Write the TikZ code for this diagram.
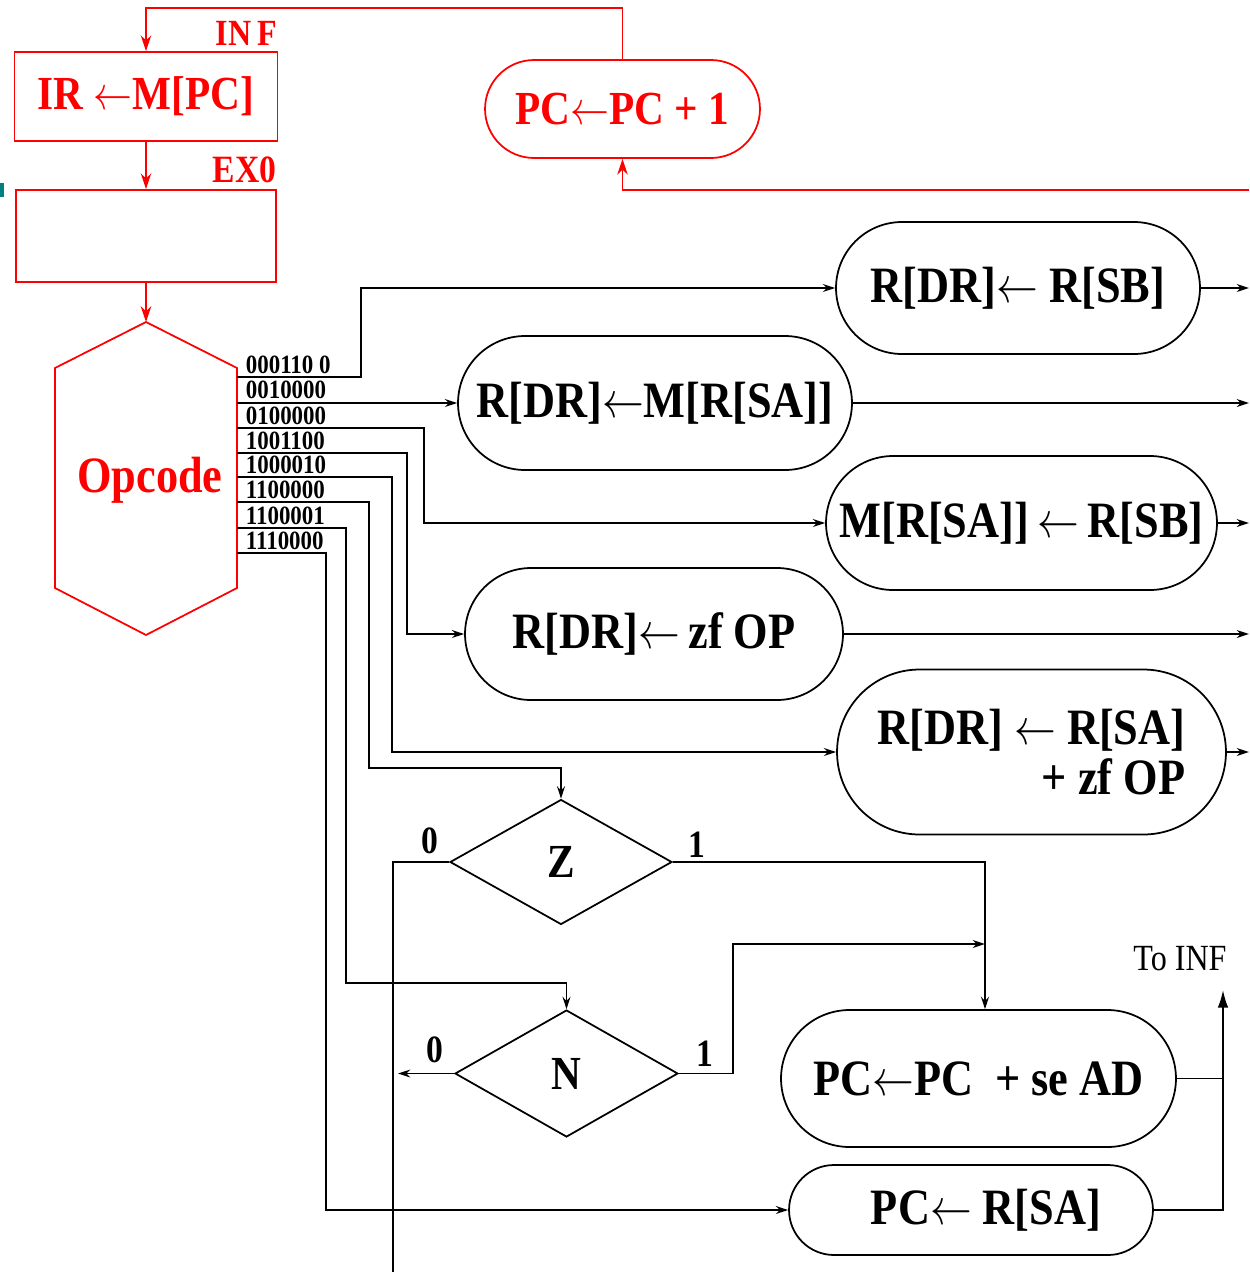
\documentclass[tikz,border=0pt]{standalone}
\usepackage{fix-cm}
\usepackage{graphicx}
\usepackage{fontspec}
\setmainfont{Liberation Serif}[FakeStretch=0.87]
\usetikzlibrary{shapes.geometric,shapes.misc,arrows.meta}
\newcommand{\fsz}[1]{\fontsize{#1}{#1}\selectfont}
\newcommand{\getarrow}{\scalebox{0.82}[1]{$\leftarrow$}}

\begin{document}
\begin{tikzpicture}[x=0.02cm, y=-0.02cm, line width=1pt,
  >={Stealth[length=7pt,width=4.5pt]},
  fbox/.style={draw=red, text=red, font=\fsz{27}\bfseries, inner sep=0pt},
  oval/.style={rounded rectangle, draw, font=\fsz{29}\bfseries, inner sep=0pt},
  test/.style={diamond, draw, font=\fsz{27}\bfseries, inner sep=0pt,
    minimum width=4.44cm, minimum height=2.5cm},
  code/.style={font=\fsz{15}\bfseries, anchor=base west, inner sep=0pt},
  flag/.style={font=\fsz{22}\bfseries, anchor=base, inner sep=0pt},
  redarrow/.style={red, ->, >={Stealth[length=9pt,width=6pt]}}]
  \useasboundingbox (0,0) rectangle (1249,1272);
  % Fetch box, decode box and PC increment (red)
  \node[fbox, minimum width=5.26cm, minimum height=1.78cm] (fetch) at (146,96.5)
    {IR \getarrow M[PC]};
  \node[fbox, minimum width=5.2cm, minimum height=1.84cm] (decode) at (146,236) {};
  \node[red, font=\fsz{21}\bfseries, anchor=base east, inner sep=0pt] (inf)
    at (278,45) {IN\,F};
  \node[red, font=\fsz{22}\bfseries, anchor=base east, inner sep=0pt] (ex0)
    at (277,182) {EX0};
  \node[rounded rectangle, draw=red, text=red, font=\fsz{27}\bfseries,
    minimum width=5.5cm, minimum height=1.96cm, inner sep=0pt] (pcinc)
    at (622.5,109) {PC\getarrow PC + 1};
  \fill[teal] (0,183) rectangle (4,197);
  % Opcode hexagon
  \draw[red] (146,322) coordinate (hextop) -- (237,368) -- (237,588)
    -- (146,635) -- (55,588) -- (55,368) -- cycle;
  \node[text=red, font=\fsz{29}\bfseries] (opcode) at (150,480) {Opcode};
  % Red connectors
  \coordinate (loop) at (146,8);
  \coordinate (pcfeed) at (1249,190);
  \draw[redarrow] (pcinc.north) |- (loop) -- (fetch.north);
  \draw[redarrow] (fetch.south) -- (decode.north);
  \draw[redarrow] (decode.south) -- (hextop);
  \draw[redarrow] (pcfeed) -| (pcinc.south);
  % Execute states
  \node[oval, minimum width=7.28cm, minimum height=2.64cm] (sb) at (1018,288)
    {R[DR]\getarrow\ R[SB]};
  \node[oval, minimum width=7.88cm, minimum height=2.68cm] (ld) at (655,403)
    {R[DR]\getarrow M[R[SA]]};
  \node[oval, minimum width=7.82cm, minimum height=2.68cm] (st) at (1021.5,523)
    {M[R[SA]]\,\getarrow\,R[SB]};
  \node[oval, minimum width=7.56cm, minimum height=2.64cm] (zf) at (654,634)
    {R[DR]\getarrow\,zf OP};
  \node[oval, minimum width=7.78cm, minimum height=3.3cm, align=right,
    font=\fontsize{29}{28}\selectfont\bfseries] (add) at (1031.5,752)
    {R[DR] \getarrow\ R[SA]\\+ zf OP};
  \node[oval, minimum width=7.9cm, minimum height=2.74cm] (br) at (978.5,1078.5)
    {PC\getarrow PC \ + se AD};
  \node[oval, minimum width=7.28cm, minimum height=1.8cm] (jr) at (971,1210)
    {\hspace{0.6cm}PC\getarrow\ R[SA]};
  % Condition tests
  \node[test] (Z) at (561,862) {Z};
  \node[test, minimum width=4.46cm, minimum height=2.54cm] (N) at (566.5,1073.5) {N};
  \node[flag] (z0) at (430,853) {0};
  \node[flag] (z1) at (697,857) {1};
  \node[flag] (n0) at (435,1062) {0};
  \node[flag] (n1) at (705,1066) {1};
  % Opcode values and their lines
  \coordinate (o1) at (237,377);
  \coordinate (o2) at (237,403);
  \coordinate (o3) at (237,428);
  \coordinate (o4) at (237,453);
  \coordinate (o5) at (237,477);
  \coordinate (o6) at (237,502);
  \coordinate (o7) at (237,528);
  \coordinate (o8) at (237,553);
  \node[code] (c1) at (245,373) {000110 0};
  \node[code] (c2) at (245,398) {0010000};
  \node[code] (c3) at (245,424) {0100000};
  \node[code] (c4) at (245,449) {1001100};
  \node[code] (c5) at (245,473) {1000010};
  \node[code] (c6) at (245,498) {1100000};
  \node[code] (c7) at (245,524) {1100001};
  \node[code] (c8) at (245,549) {1110000};
  \draw[->] (o1) -- ++(124,0) |- (sb.west);
  \draw[->] (o2) -- (ld.west);
  \draw[->] (o3) -- ++(187,0) |- (st.west);
  \draw[->] (o4) -- ++(170,0) |- (zf.west);
  \draw[->] (o5) -- ++(155,0) |- (add.west);
  \draw[->] (o6) -- ++(132,0) -- ++(0,266) -| (Z.north);
  \draw[->] (o7) -- ++(109,0) -- ++(0,455) -| (N.north);
  \draw[->] (o8) -- ++(89,0) |- (jr.west);
  % Outputs to the right edge
  \coordinate (edge) at (1249,0);
  \draw[->] (sb.east) -- (sb.east -| edge);
  \draw[->] (ld.east) -- (ld.east -| edge);
  \draw[->] (st.east) -- (st.east -| edge);
  \draw[->] (zf.east) -- (zf.east -| edge);
  \draw[->] (add.east) -- (add.east -| edge);
  % Branch connectors
  \coordinate (zdown) at (393,1272);
  \coordinate (nleft) at (398,1073.5);
  \coordinate (join) at (985,944);
  \coordinate (toinf) at (1223,990);
  \draw (Z.west) -| (zdown);
  \draw[->] (Z.east) -| ([xshift=0.13cm]br.north);
  \draw[->] (N.west) -- (nleft);
  \draw[->] (N.east) -- ++(54,0) |- (join);
  \draw (br.east) -- (br.east -| toinf);
  \draw[-{Latex[length=10pt,width=6pt]}] (jr.east) -| (toinf);
  \node[font=\fsz{21}, anchor=base, inner sep=0pt] (toinflab) at (1180,970) {To INF};
\end{tikzpicture}
\end{document}
